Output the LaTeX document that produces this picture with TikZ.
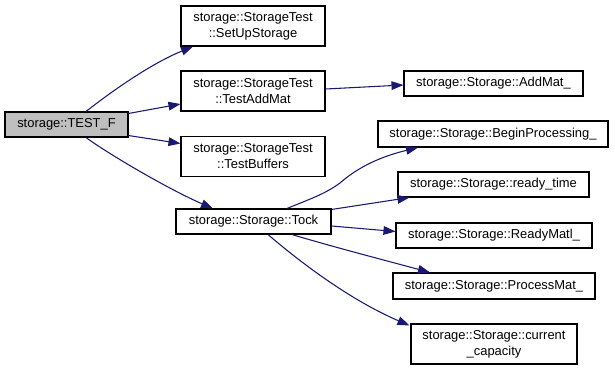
\documentclass[tikz,border=0pt]{standalone}
\usepackage{fontspec}
\setmainfont{Liberation Sans}
\usetikzlibrary{arrows.meta,calc}
\definecolor{edgeblue}{HTML}{191970}
\definecolor{rootgray}{HTML}{BFBFBF}
\begin{document}
\begin{tikzpicture}[
  x=0.75pt, y=-0.75pt,
  fn/.style={draw=black, line width=0.8pt, fill=white, inner sep=0pt,
             align=center, font=\fontsize{9.7}{12}\selectfont},
  wpx/.style={minimum width=#1*0.75pt},
  hpx/.style={minimum height=#1*0.75pt},
  call/.style={draw=edgeblue, line width=0.8pt,
               -{Triangle[length=9pt,width=6.5pt,color=edgeblue]}}
]
\useasboundingbox (0,0) rectangle (615,371);

% caller
\node[fn, fill=rootgray, wpx=123, hpx=25] (testf) at (66.5,124.5) {storage::TEST\_F};

% first level callees
\node[fn, wpx=144, hpx=40] (setup)   at (253,26)    {storage::StorageTest\\::SetUpStorage};
\node[fn, wpx=144, hpx=40] (taddmat) at (253,91)    {storage::StorageTest\\::TestAddMat};
\node[fn, wpx=144, hpx=40] (tbuf)    at (253,156.5) {storage::StorageTest\\::TestBuffers};
\node[fn, wpx=155, hpx=25] (tock)    at (253.5,221.5) {storage::Storage::Tock};

% second level callees
\node[fn, wpx=179, hpx=25] (addmat)  at (493.5,83.5) {storage::Storage::AddMat\_};
\node[fn, wpx=230, hpx=26] (begin)   at (493,134)    {storage::Storage::BeginProcessing\_};
\node[fn, wpx=191, hpx=25] (ready)   at (493.5,184.5) {storage::Storage::ready\_time};
\node[fn, wpx=196, hpx=25] (rmatl)   at (494,235.5)  {storage::Storage::ReadyMatl\_};
\node[fn, wpx=202, hpx=26] (pmat)    at (494,286)    {storage::Storage::ProcessMat\_};
\node[fn, wpx=166, hpx=40] (cap)     at (494,344)    {storage::Storage::current\\\_capacity};

% calls from TEST_F
\draw[call] ($(testf.north)+(19.5,0)$) .. controls (120,85) and (155,62) .. ($(setup.south)+(-60,0)$);
\draw[call] ($(testf.north east)+(0,2)$) -- ($(taddmat.west)+(0,13)$);
\draw[call] ($(testf.south east)+(0,-2)$) -- ($(tbuf.west)+(0,-13)$);
\draw[call] ($(testf.south)+(19.5,0)$) .. controls (110,155) and (170,190) .. ($(tock.north)+(-40.5,0)$);

% call from TestAddMat
\draw[call] ($(taddmat.east)+(0,-2)$) -- ($(addmat.west)+(0,1.5)$);

% calls from Tock
\draw[call] ($(tock.north)+(33.5,0)$) .. controls (310,199) and (325,194) .. (340,183)
            .. controls (355,170) and (375,158) .. ($(begin.south)+(-75,0)$);
\draw[call] ($(tock.north east)+(0,1)$) -- ($(ready.south west)+(12,0)$);
\draw[call] ($(tock.east)+(0,4.5)$) -- ($(rmatl.west)+(0,-4)$);
\draw[call] ($(tock.south)+(38.5,0)$) .. controls (330,246) and (380,259) .. ($(pmat.north)+(-64,0)$);
\draw[call] ($(tock.south)+(14.5,0)$) .. controls (300,262) and (350,300) .. ($(cap.north west)+(-1,2)$);
\end{tikzpicture}
\end{document}
